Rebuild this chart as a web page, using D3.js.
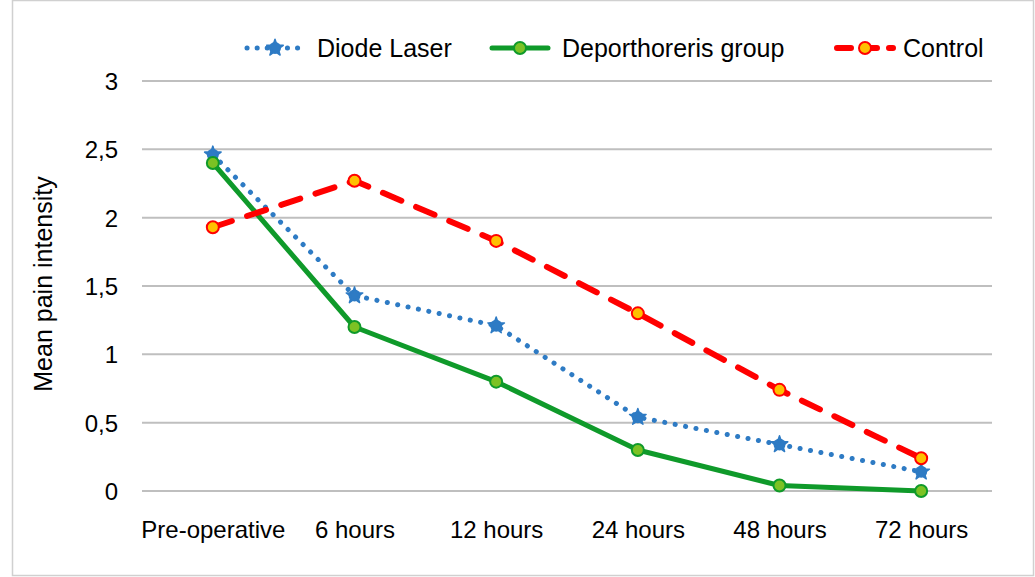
<!DOCTYPE html>
<html>
<head>
<meta charset="utf-8">
<script src="https://cdn.jsdelivr.net/npm/d3@7"></script>
<style>
  body { margin: 0; background: #fff; }
  text { font-family: "Liberation Sans", Arial, sans-serif; fill: #000; }
  .grid line { stroke: #bfbfbf; stroke-width: 2; }
  .legendText { font-family: "Liberation Sans Narrow", "Liberation Sans", sans-serif; font-size: 25px; }
</style>
</head>
<body>
<div id="main-svg"></div>
<script>
var width = 1035;
var height = 577;

// chart data
var categories = ["Pre-operative", "6 hours", "12 hours", "24 hours", "48 hours", "72 hours"];
var diodeLaser = [2.46, 1.43, 1.21, 0.54, 0.34, 0.14];
var deporthoreris = [2.40, 1.20, 0.80, 0.30, 0.04, 0.00];
var control = [1.93, 2.27, 1.83, 1.30, 0.74, 0.24];
var yTicks = [0, 0.5, 1, 1.5, 2, 2.5, 3];

const margin = { top: 81, right: 43, bottom: 86, left: 142 };

var svg = d3.select("#main-svg").append("svg")
  .attr("width", width)
  .attr("height", height);

// outer frame
svg.append("rect")
  .attr("x", 12.5).attr("y", 0.5)
  .attr("width", width - 14).attr("height", height - 2)
  .attr("fill", "none")
  .attr("stroke", "#d0d0d0")
  .attr("stroke-width", 1.5);

let x = d3.scalePoint()
  .domain(categories)
  .range([margin.left, width - margin.right])
  .padding(0.5);

let y = d3.scaleLinear()
  .domain([0, 3])
  .range([height - margin.bottom, margin.top]);

// gridlines
svg.append("g")
  .attr("class", "grid")
  .selectAll("line")
  .data(yTicks)
  .enter()
  .append("line")
  .attr("x1", margin.left)
  .attr("x2", width - margin.right)
  .attr("y1", d => y(d))
  .attr("y2", d => y(d));

let yAxis = d3.axisLeft(y)
  .tickValues(yTicks)
  .tickSize(0)
  .tickPadding(24)
  .tickFormat(d => String(d).replace(".", ","));

svg.append("g")
  .attr("class", "axis yAxis")
  .attr("transform", `translate(${margin.left}, 0)`)
  .call(yAxis)
  .call(g => g.select(".domain").remove())
  .selectAll("text")
  .style("font-size", "24px")
  .attr("dy", "0.35em");

let xAxis = d3.axisBottom(x)
  .tickSize(0)
  .tickPadding(30);

svg.append("g")
  .attr("class", "axis xAxis")
  .attr("transform", `translate(0, ${y(0)})`)
  .call(xAxis)
  .call(g => g.select(".domain").remove())
  .selectAll("text")
  .style("font-size", "24px");

svg.append("text")
  .attr("transform", `translate(52, ${y(1.5) - 2}) rotate(-90)`)
  .style("text-anchor", "middle")
  .style("font-size", "25px")
  .text("Mean pain intensity");

var series = [
  { name: "Diode Laser", values: diodeLaser, color: "#2e7bc4", width: 5, dash: "0.1 10.5", marker: "star", fill: "#2e7bc4", mstroke: "#2e7bc4" },
  { name: "Deporthoreris group", values: deporthoreris, color: "#0f9a2a", width: 5, dash: null, marker: "circle", fill: "#7cc224", mstroke: "#0f9a2a" },
  { name: "Control", values: control, color: "#ff0000", width: 6, dash: "20 16", marker: "circle", fill: "#ffc000", mstroke: "#ff0000" }
];

var line = d3.line()
  .x((d, i) => x(categories[i]))
  .y(d => y(d));

var star = d3.symbol().type(d3.symbolStar).size(85);

function drawMarker(g, s, cx, cy) {
  if (s.marker === "star") {
    g.append("circle")
      .attr("cx", cx).attr("cy", cy).attr("r", 6)
      .attr("fill", s.fill);
    g.append("path")
      .attr("d", star)
      .attr("transform", `translate(${cx},${cy})`)
      .attr("fill", s.fill)
      .attr("stroke", s.mstroke)
      .attr("stroke-width", 1.5)
      .attr("stroke-linejoin", "round");
  } else {
    g.append("circle")
      .attr("cx", cx).attr("cy", cy).attr("r", 6)
      .attr("fill", s.fill)
      .attr("stroke", s.mstroke)
      .attr("stroke-width", 2);
  }
}

series.forEach(s => {
  let g = svg.append("g").attr("class", "series");
  g.append("path")
    .datum(s.values)
    .attr("d", line)
    .attr("fill", "none")
    .attr("stroke", s.color)
    .attr("stroke-width", s.width)
    .attr("stroke-linecap", "round")
    .attr("stroke-linejoin", "round")
    .attr("stroke-dasharray", s.dash);
  s.values.forEach((v, i) => drawMarker(g, s, x(categories[i]), y(v)));
});

// legend
var legendX = [245, 490, 835];
series.forEach((s, i) => {
  let g = svg.append("g").attr("class", "legend")
    .attr("transform", `translate(${legendX[i]}, 48)`);
  g.append("line")
    .attr("x1", 2).attr("x2", 58)
    .attr("stroke", s.color)
    .attr("stroke-width", s.width)
    .attr("stroke-linecap", "round")
    .attr("stroke-dasharray", s.dash ? (s.marker === "star" ? "0.1 10" : "14 12") : null);
  drawMarker(g, s, 30, 0);
  g.append("text")
    .attr("class", "legendText")
    .attr("x", i === 2 ? 68 : 72)
    .attr("dy", "0.35em")
    .text(s.name);
});
</script>
</body>
</html>
